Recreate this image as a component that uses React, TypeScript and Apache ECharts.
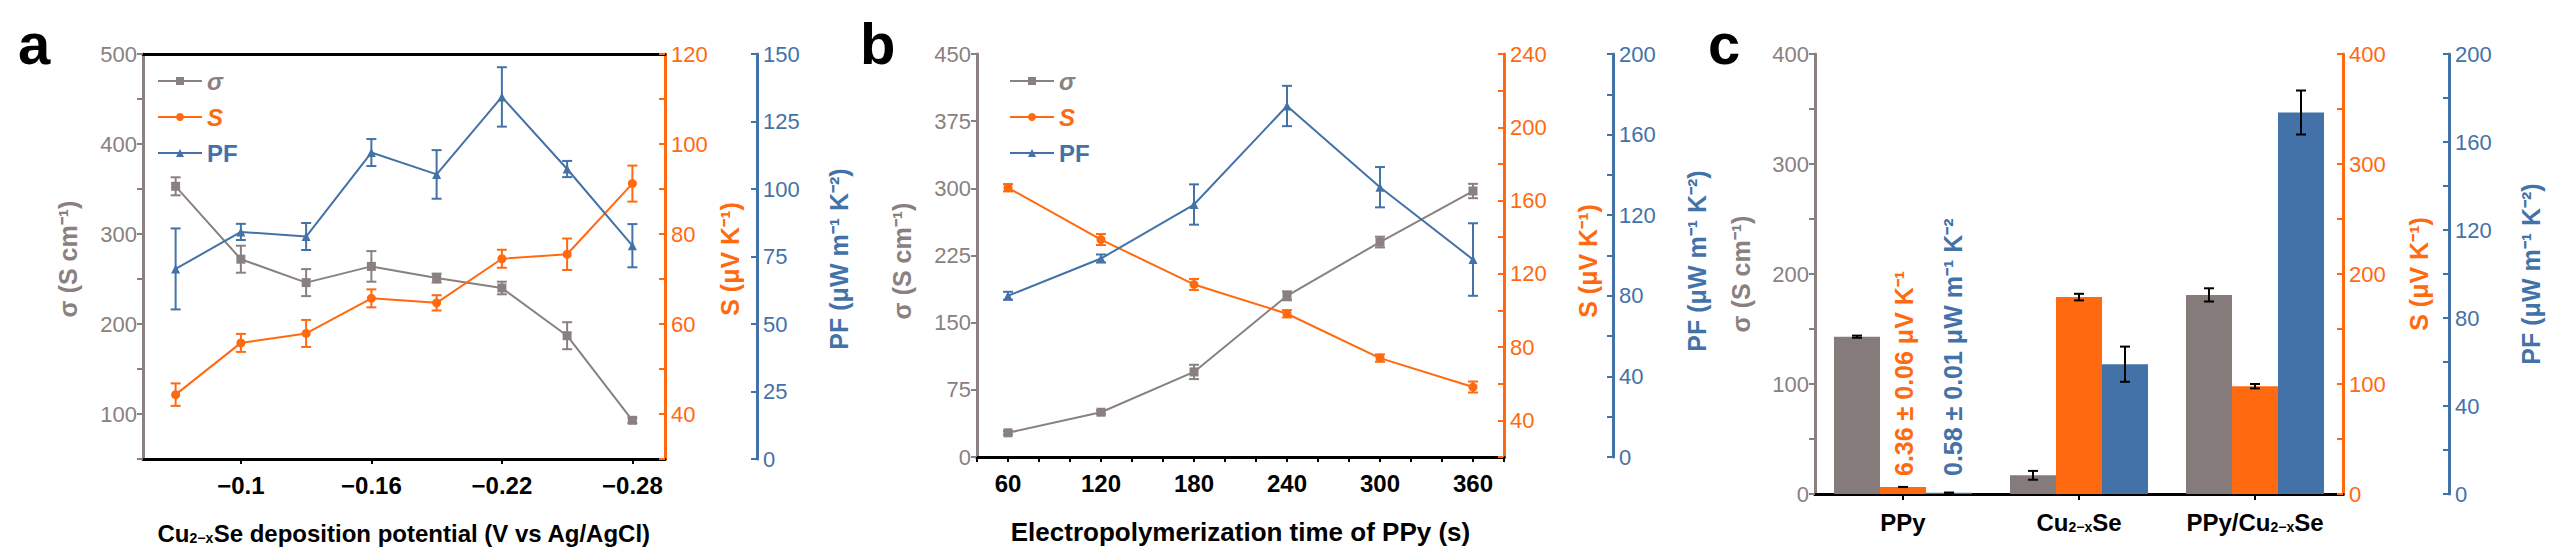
import React, { useEffect, useRef } from "react";
import * as echarts from "echarts";

// panel a
const potentials = ["-0.07", "-0.1", "-0.13", "-0.16", "-0.19", "-0.22", "-0.25", "-0.28"];
const aSigma = [353, 272, 246, 264, 251, 240, 187, 93];
const aSigmaErr = [10, 15, 15, 17, 5, 7, 15, 3];
const aS = [44.3, 55.8, 57.9, 65.7, 64.7, 74.5, 75.5, 91.2];
const aSErr = [2.5, 2, 3, 2, 1.7, 2, 3.5, 4];
const aPF = [70.4, 84.1, 82.4, 113.5, 105.4, 134.1, 107.4, 79];
const aPFErr = [15, 3, 5, 5, 9, 11, 3, 8];

// panel b
const times = [60, 120, 180, 240, 300, 360];
const bSigma = [27, 50, 95, 180, 240, 297];
const bSigmaErr = [2, 2, 8, 5, 6, 8];
const bS = [167, 138.7, 114.2, 98.2, 74, 58.2];
const bSErr = [2, 3, 3, 2, 2, 3];
const bPF = [80, 98.5, 125.3, 174.2, 133.9, 98];
const bPFErr = [2, 2, 10, 10, 10, 18];

// panel c
const samples = ["PPy", "Cu2-xSe", "PPy/Cu2-xSe"];
const cSigma = [143, 17, 181];
const cSigmaErr = [1, 4, 6];
const cS = [6.36, 179, 98];
const cSErr = [0.06, 3, 2];
const cPF = [0.58, 59, 173.4];
const cPFErr = [0.01, 8, 10];

const GRAY = "#8a8080";
const ORANGE = "#ff6a10";
const BLUE = "#4372a8";
const FONT = "'Liberation Sans Narrow', 'Liberation Sans', Arial, sans-serif";

const errSeries = (
  xs: (number | string)[],
  ys: number[],
  es: number[],
  xi: number,
  yi: number,
  color: string,
  dx = 0
) => ({
  type: "custom",
  xAxisIndex: xi,
  yAxisIndex: yi,
  silent: true,
  z: 5,
  data: ys.map((y, i) => [typeof xs[i] === "number" ? xs[i] : i, y, es[i]]),
  renderItem: (_p: any, api: any) => {
    const x = api.value(0);
    const y = api.value(1);
    const e = api.value(2);
    const t = api.coord([x, y + e]);
    const b = api.coord([x, y - e]);
    const cx = t[0] + dx;
    const st = { stroke: color, lineWidth: 2 };
    return {
      type: "group",
      children: [
        { type: "line", shape: { x1: cx, y1: t[1], x2: cx, y2: b[1] }, style: st },
        { type: "line", shape: { x1: cx - 5, y1: t[1], x2: cx + 5, y2: t[1] }, style: st },
        { type: "line", shape: { x1: cx - 5, y1: b[1], x2: cx + 5, y2: b[1] }, style: st },
      ],
    };
  },
});

const yAx = (
  gi: number,
  color: string,
  min: number,
  max: number,
  interval: number,
  show: (v: number) => boolean,
  pos: "left" | "right",
  offset: number
) => ({
  type: "value",
  gridIndex: gi,
  position: pos,
  offset,
  min,
  max,
  interval,
  axisLine: { show: true, lineStyle: { color, width: 3 } },
  axisTick: { show: true, inside: pos === "right", length: 6, lineStyle: { color, width: 2 } },
  axisLabel: {
    color,
    fontSize: 22,
    fontFamily: FONT,
    margin: 6,
    formatter: (v: number) => (show(v) ? String(v) : ""),
  },
  splitLine: { show: false },
});

const topAx = (gi: number) => ({
  type: "value",
  gridIndex: gi,
  position: "top",
  min: 0,
  max: 1,
  axisLine: { show: true, lineStyle: { color: "#000", width: 3 } },
  axisTick: { show: false },
  axisLabel: { show: false },
  splitLine: { show: false },
});

const subRich = {
  sub: { fontSize: 14, fontWeight: "bold", fontFamily: FONT, color: "#000", padding: [10, 0, 0, 0] },
};

const lineSeries = (name: string, data: any[], xi: number, yi: number, color: string, symbol: string) => ({
  name,
  type: "line",
  xAxisIndex: xi,
  yAxisIndex: yi,
  data,
  symbol,
  symbolSize: 9,
  itemStyle: { color },
  lineStyle: { color, width: 2 },
  z: 4,
});

const legend = (left: number) => ({
  left,
  top: 56,
  orient: "vertical",
  itemWidth: 44,
  itemHeight: 10,
  itemGap: 12,
  textStyle: { fontSize: 24, fontWeight: "bold", fontFamily: FONT },
  data: [
    { name: "σ", textStyle: { color: GRAY, fontStyle: "italic" } },
    { name: "S", textStyle: { color: ORANGE, fontStyle: "italic" } },
    { name: "PF", textStyle: { color: BLUE } },
  ],
});

// rotated axis title
const vText = (x: number, y: number, text: string, fill: string, align = "center") => ({
  type: "text",
  x,
  y,
  rotation: Math.PI / 2,
  style: { text, fontSize: 25, fontWeight: "bold", fontFamily: FONT, fill, textAlign: align, textVerticalAlign: "middle" },
});

const letter = (x: number, t: string) => ({
  type: "text",
  x,
  y: 6,
  style: { text: t, fontSize: 58, fontWeight: "bold", fontFamily: "Liberation Sans", fill: "#000", textVerticalAlign: "top" },
});

const App = () => {
  const ref = useRef<HTMLDivElement>(null);

  useEffect(() => {
    const chart = echarts.init(ref.current, null, { renderer: "svg" });

    const option: any = {
      animation: false,
      backgroundColor: "#fff",
      textStyle: { fontFamily: FONT },
      grid: [
        { left: 135, top: 46, width: 522, height: 410 },
        { left: 969, top: 46, width: 527, height: 415 },
        { left: 1807, top: 46, width: 528, height: 440 },
      ],
      legend: [legend(144), legend(996)],
      xAxis: [
        {
          type: "category",
          gridIndex: 0,
          data: potentials,
          boundaryGap: true,
          name: "Cu{sub|2−x}Se deposition potential (V vs Ag/AgCl)",
          nameLocation: "middle",
          nameGap: 62,
          nameTextStyle: { color: "#000", fontSize: 24, fontWeight: "bold", fontFamily: FONT, rich: subRich },
          axisLine: { lineStyle: { color: "#000", width: 3 } },
          axisTick: { show: true, alignWithLabel: true, interval: (i: number) => i % 2 === 1, lineStyle: { color: "#000", width: 2 } },
          axisLabel: {
            color: "#000",
            fontSize: 24,
            fontWeight: "bold",
            fontFamily: FONT,
            margin: 14,
            interval: (i: number) => i % 2 === 1,
            formatter: (v: string) => v.replace("-", "−"),
          },
        },
        {
          type: "value",
          gridIndex: 1,
          min: 40,
          max: 380,
          interval: 20,
          name: "Electropolymerization time of PPy (s)",
          nameLocation: "middle",
          nameGap: 62,
          nameTextStyle: { color: "#000", fontSize: 26, fontWeight: "bold", fontFamily: FONT },
          axisLine: { lineStyle: { color: "#000", width: 3 } },
          axisTick: { show: true, length: 5, lineStyle: { color: "#000", width: 2 } },
          axisLabel: {
            color: "#000",
            fontSize: 24,
            fontWeight: "bold",
            fontFamily: FONT,
            margin: 14,
            formatter: (v: number) => (v % 60 === 0 ? String(v) : ""),
          },
          splitLine: { show: false },
        },
        {
          type: "category",
          gridIndex: 2,
          data: samples,
          axisLine: { lineStyle: { color: "#000", width: 3 } },
          axisTick: { show: true, alignWithLabel: true, length: 6, lineStyle: { color: "#000", width: 2 } },
          axisLabel: {
            color: "#000",
            fontSize: 24,
            fontWeight: "bold",
            fontFamily: FONT,
            margin: 16,
            interval: 0,
            formatter: (v: string) => v.replace("2-x", "{sub|2−x}"),
            rich: subRich,
          },
        },
        topAx(0),
        topAx(1),
        topAx(2),
      ],
      yAxis: [
        yAx(0, GRAY, 50, 500, 50, (v) => v % 100 === 0, "left", 0),
        yAx(0, ORANGE, 30, 120, 10, (v) => v >= 40 && v % 20 === 0, "right", 0),
        yAx(0, BLUE, 0, 150, 25, () => true, "right", 92),
        yAx(1, GRAY, 0, 450, 75, () => true, "left", 0),
        yAx(1, ORANGE, 20, 240, 20, (v) => v % 40 === 0, "right", 0),
        yAx(1, BLUE, 0, 200, 20, (v) => v % 40 === 0, "right", 109),
        yAx(2, GRAY, 0, 400, 50, (v) => v % 100 === 0, "left", 0),
        yAx(2, ORANGE, 0, 400, 50, (v) => v % 100 === 0, "right", 0),
        yAx(2, BLUE, 0, 200, 20, (v) => v % 40 === 0, "right", 106),
      ],
      series: [
        lineSeries("σ", aSigma, 0, 0, GRAY, "rect"),
        lineSeries("S", aS, 0, 1, ORANGE, "circle"),
        lineSeries("PF", aPF, 0, 2, BLUE, "triangle"),
        errSeries(potentials, aSigma, aSigmaErr, 0, 0, GRAY),
        errSeries(potentials, aS, aSErr, 0, 1, ORANGE),
        errSeries(potentials, aPF, aPFErr, 0, 2, BLUE),
        lineSeries("σ", times.map((t, i) => [t, bSigma[i]]), 1, 3, GRAY, "rect"),
        lineSeries("S", times.map((t, i) => [t, bS[i]]), 1, 4, ORANGE, "circle"),
        lineSeries("PF", times.map((t, i) => [t, bPF[i]]), 1, 5, BLUE, "triangle"),
        errSeries(times, bSigma, bSigmaErr, 1, 3, GRAY),
        errSeries(times, bS, bSErr, 1, 4, ORANGE),
        errSeries(times, bPF, bPFErr, 1, 5, BLUE),
        { type: "bar", xAxisIndex: 2, yAxisIndex: 6, data: cSigma, barWidth: 46, barGap: "0%", itemStyle: { color: "#857b7b" } },
        { type: "bar", xAxisIndex: 2, yAxisIndex: 7, data: cS, barWidth: 46, barGap: "0%", itemStyle: { color: ORANGE } },
        { type: "bar", xAxisIndex: 2, yAxisIndex: 8, data: cPF, barWidth: 46, barGap: "0%", itemStyle: { color: BLUE } },
        errSeries(samples, cSigma, cSigmaErr, 2, 6, "#000", -46),
        errSeries(samples, cS, cSErr, 2, 7, "#000", 0),
        errSeries(samples, cPF, cPFErr, 2, 8, "#000", 46),
      ],
      graphic: [
        letter(10, "a"),
        letter(852, "b"),
        letter(1700, "c"),
        vText(60, 251, "σ (S cm⁻¹)", GRAY),
        vText(722, 251, "S (μV K⁻¹)", ORANGE),
        vText(831, 251, "PF (μW m⁻¹ K⁻²)", BLUE),
        vText(894, 253, "σ (S cm⁻¹)", GRAY),
        vText(1580, 253, "S (μV K⁻¹)", ORANGE),
        vText(1689, 253, "PF (μW m⁻¹ K⁻²)", BLUE),
        vText(1733, 266, "σ (S cm⁻¹)", GRAY),
        vText(2411, 266, "S (μV K⁻¹)", ORANGE),
        vText(2523, 266, "PF (μW m⁻¹ K⁻²)", BLUE),
        vText(1896, 468, "6.36 ± 0.06 μV K⁻¹", ORANGE, "left"),
        vText(1945, 468, "0.58 ± 0.01 μW m⁻¹ K⁻²", BLUE, "left"),
      ],
    };

    chart.setOption(option);
    return () => chart.dispose();
  }, []);

  return <div ref={ref} style={{ width: 2538, height: 542 }} />;
};

export default App;
